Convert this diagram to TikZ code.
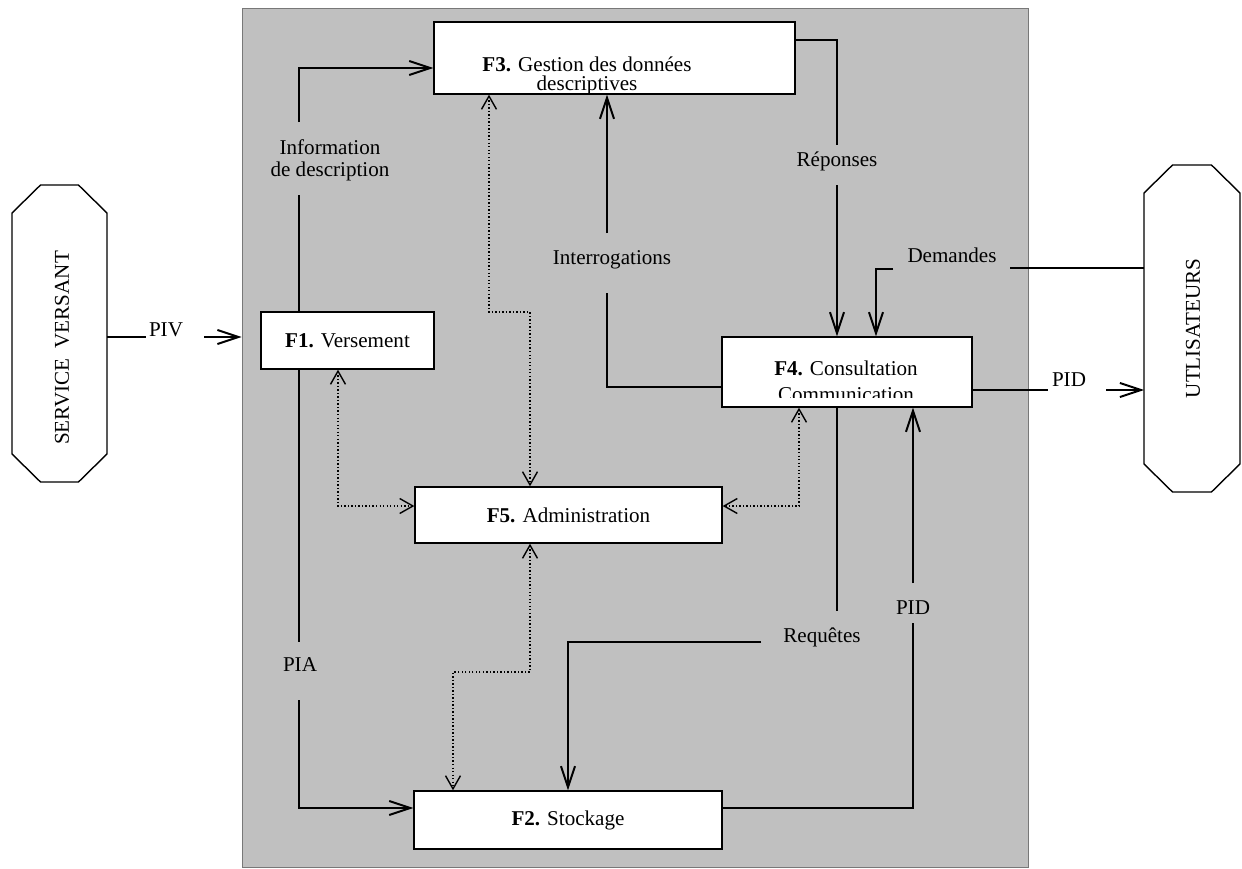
\documentclass[tikz,border=0pt]{standalone}
\usepackage{fontspec}
\setmainfont{Liberation Serif}
\usetikzlibrary{arrows.meta}
\definecolor{panelgray}{RGB}{192,192,192}
\definecolor{edgegray}{RGB}{120,120,120}

\begin{document}
\begin{tikzpicture}[x=0.02cm,y=-0.02cm,>={Straight Barb[length=12pt,width=8pt]},
  txt/.style={font=\fontsize{12pt}{14.5pt}\selectfont,inner sep=0pt},
  fbox/.style={txt,draw,line width=0.8pt,fill=white},
  ext/.style={inner sep=0pt,outer sep=0pt,minimum width=1.9cm},
  flow/.style={line width=1.1pt},
  ctrl/.style={line width=0.8pt,dash pattern=on 0.8pt off 1.2pt,
    {Straight Barb[length=7.5pt,width=8.5pt]}-{Straight Barb[length=7.5pt,width=8.5pt]}}]
  \useasboundingbox (0,0) rectangle (1242,869);
  % archive system
  \node[draw=edgegray,fill=panelgray,line width=0.6pt,minimum width=15.74cm,
    minimum height=17.2cm,inner sep=0pt] (panel) at (635.5,438) {};
  % outside entities
  \node[ext,minimum height=5.94cm] (sv) at (59.5,333.5) {};
  \node[ext,minimum width=1.92cm,minimum height=6.54cm] (us) at (1192,328.5) {};
  \foreach \e in {sv,us}
    \draw[line width=0.8pt] ([xshift=0.57cm]\e.north west) -- ([xshift=-0.57cm]\e.north east)
      -- ([yshift=-0.56cm]\e.north east) -- ([yshift=0.56cm]\e.south east)
      -- ([xshift=-0.57cm]\e.south east) -- ([xshift=0.57cm]\e.south west)
      -- ([yshift=0.56cm]\e.south west) -- ([yshift=-0.56cm]\e.north west) -- cycle;
  \node[txt,rotate=90] (svtxt) at (62,348) {SERVICE\ \ VERSANT};
  \node[txt,rotate=90] (ustxt) at (1193,328.5) {UTLISATEURS};
  % functions
  \node[fbox,minimum width=3.46cm,minimum height=1.14cm] (f1) at (347.5,340.5) {\textbf{F1.} Versement};
  \node[fbox,minimum width=6.16cm,minimum height=1.16cm] (f2) at (568,820) {\textbf{F2.} Stockage};
  \node[fbox,minimum width=7.22cm,minimum height=1.44cm] (f3) at (614.5,58) {};
  \node[fbox,minimum width=5cm,minimum height=1.4cm] (f4) at (847,372) {};
  \node[fbox,minimum width=6.14cm,minimum height=1.12cm] (f5) at (568.5,515) {\textbf{F5.} Administration};
  \begin{scope}
    \clip ([xshift=1pt,yshift=-1pt]f3.north west) rectangle ([xshift=-1pt,yshift=1pt]f3.south east);
    \node[txt,align=center,font=\fontsize{12pt}{11pt}\selectfont,anchor=north] (f3txt) at (587,56)
      {\textbf{F3.} Gestion des données\\descriptives};
  \end{scope}
  \begin{scope}
    \clip ([xshift=1pt,yshift=-1pt]f4.north west) rectangle ([xshift=-1pt,yshift=0.2cm]f4.south east);
    \node[txt,align=center,anchor=north] (f4txt) at (846,361) {\textbf{F4.} Consultation\\Communication};
  \end{scope}
  % flow labels
  \node[txt] (piv) at (166,330) {PIV};
  \node[txt,align=center,font=\fontsize{12pt}{12.5pt}\selectfont] (info) at (330,160) {Information\\de description};
  \node[txt] (pia) at (300,665) {PIA};
  \node[txt] (pidl) at (913,608) {PID};
  \node[txt] (req) at (822,637) {Requêtes};
  \node[txt] (intg) at (612,260) {Interrogations};
  \node[txt] (rep) at (837,161) {Réponses};
  \node[txt] (dem) at (952,255) {Demandes};
  \node[txt] (pidr) at (1069,380) {PID};
  % break points
  \coordinate (pivA) at (146,337); \coordinate (pivB) at (204,337);
  \coordinate (infA) at (299,195); \coordinate (infB) at (299,122); \coordinate (infC) at (299,68);
  \coordinate (piaA) at (299,642); \coordinate (piaB) at (299,700); \coordinate (piaC) at (299,808);
  \coordinate (pidA) at (913,808); \coordinate (pidB) at (913,623); \coordinate (pidC) at (913,583);
  \coordinate (reqA) at (837,611); \coordinate (reqB) at (761,642); \coordinate (reqC) at (568,642);
  \coordinate (intA) at (607,387); \coordinate (intB) at (607,293); \coordinate (intC) at (607,233);
  \coordinate (repA) at (837,40); \coordinate (repB) at (837,145); \coordinate (repC) at (837,185);
  \coordinate (demA) at (1010,268); \coordinate (demB) at (893,269); \coordinate (demC) at (876,269);
  \coordinate (pdrA) at (1048,390); \coordinate (pdrB) at (1106,390);
  % data flows
  \draw[flow] (sv.east |- pivA) -- (pivA);
  \draw[flow,->] (pivB) -- (panel.west |- pivB);
  \draw[flow] (f1.north -| infA) -- (infA);
  \draw[flow,->] (infB) -- (infC) -- (f3.west |- infC);
  \draw[flow] (f1.south -| piaA) -- (piaA);
  \draw[flow,->] (piaB) -- (piaC) -- (f2.west |- piaC);
  \draw[flow] (f2.east |- pidA) -- (pidA) -- (pidB);
  \draw[flow,->] (pidC) -- (f4.south -| pidC);
  \draw[flow] (f4.south -| reqA) -- (reqA);
  \draw[flow,->] (reqB) -- (reqC) -- (f2.north -| reqC);
  \draw[flow] (f4.west |- intA) -- (intA) -- (intB);
  \draw[flow,->] (intC) -- (f3.south -| intC);
  \draw[flow] (f3.east |- repA) -- (repA) -- (repB);
  \draw[flow,->] (repC) -- (f4.north -| repC);
  \draw[flow] (us.west |- demA) -- (demA);
  \draw[flow,->] (demB) -- (demC) -- (f4.north -| demC);
  \draw[flow] (f4.east |- pdrA) -- (pdrA);
  \draw[flow,->] (pdrB) -- (us.west |- pdrB);
  % administration links
  \coordinate (c3) at (489,312); \coordinate (c5) at (530,312);
  \coordinate (c1) at (338,506); \coordinate (c4) at (799,506);
  \coordinate (c6) at (530,672); \coordinate (c2) at (453,672);
  \draw[ctrl] (f3.south -| c3) -- (c3) -- (c5) -- (f5.north -| c5);
  \draw[ctrl] (f1.south -| c1) -- (c1) -- (f5.west |- c1);
  \draw[ctrl] (f4.south -| c4) -- (c4) -- (f5.east |- c4);
  \draw[ctrl] (f5.south -| c6) -- (c6) -- (c2) -- (f2.north -| c2);
\end{tikzpicture}
\end{document}
